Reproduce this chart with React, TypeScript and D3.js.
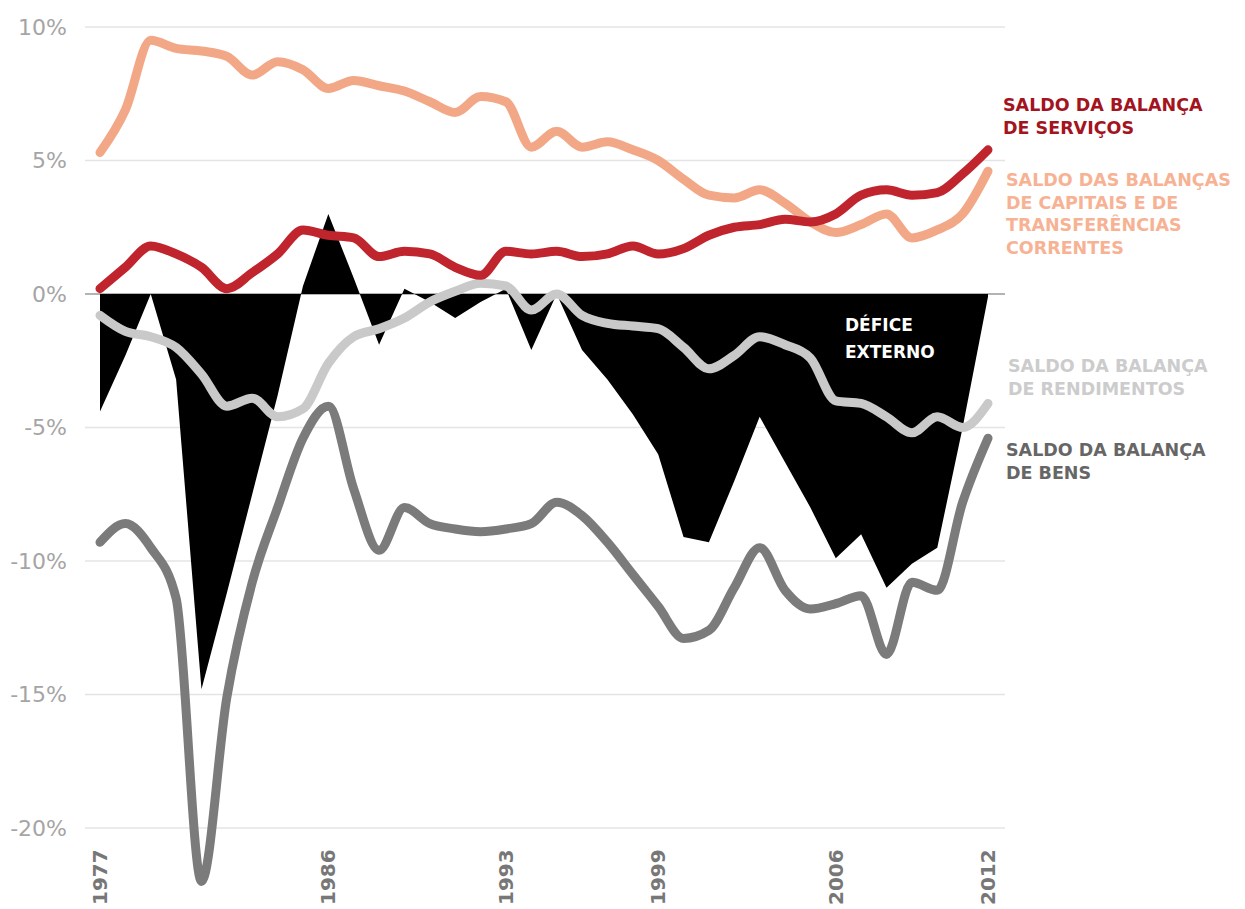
import React from "react";
import * as d3 from "d3";

// years 1977..2012
const years = d3.range(1977, 2013);

// balance of services (% GDP)
const servicos = [
  0.2, 1.0, 1.8, 1.5, 1.0, 0.2, 0.8, 1.5, 2.4, 2.2, 2.1, 1.4, 1.6, 1.5, 1.0, 0.7,
  1.6, 1.5, 1.6, 1.4, 1.5, 1.8, 1.5, 1.7, 2.2, 2.5, 2.6, 2.8, 2.7, 3.0, 3.7, 3.9,
  3.7, 3.8, 4.5, 5.4,
];

// capital + current transfers
const capitais = [
  5.3, 6.9, 9.5, 9.2, 9.1, 8.9, 8.2, 8.7, 8.4, 7.7, 8.0, 7.8, 7.6, 7.2, 6.8, 7.4,
  7.2, 5.5, 6.1, 5.5, 5.7, 5.4, 5.0, 4.3, 3.7, 3.6, 3.9, 3.4, 2.7, 2.3, 2.6, 3.0,
  2.1, 2.4, 3.0, 4.6,
];

// income balance
const rendimentos = [
  -0.8, -1.4, -1.6, -2.0, -3.0, -4.2, -3.9, -4.6, -4.3, -2.6, -1.6, -1.3, -0.9,
  -0.3, 0.1, 0.4, 0.3, -0.6, 0.0, -0.8, -1.1, -1.2, -1.3, -2.0, -2.8, -2.3, -1.6,
  -1.9, -2.4, -4.0, -4.1, -4.6, -5.2, -4.6, -5.0, -4.1,
];

// goods balance
const bens = [
  -9.3, -8.6, -9.5, -11.4, -22.0, -15.1, -10.8, -8.0, -5.4, -4.2, -7.3, -9.6,
  -8.0, -8.6, -8.8, -8.9, -8.8, -8.6, -7.8, -8.3, -9.3, -10.5, -11.7, -12.9,
  -12.6, -11.0, -9.5, -11.1, -11.8, -11.6, -11.3, -13.5, -10.8, -11.1, -7.8, -5.4,
];

// external deficit (black area)
const defice = [
  -4.4, -2.3, 0.0, -3.2, -14.8, -11.2, -7.5, -3.8, 0.3, 3.0, 0.6, -1.9, 0.2,
  -0.3, -0.9, -0.3, 0.2, -2.1, 0.0, -2.1, -3.2, -4.5, -6.0, -9.1, -9.3, -7.0,
  -4.6, -6.3, -8.0, -9.9, -9.0, -11.0, -10.1, -9.5, -5.0, -0.1,
];

const yTicks = [10, 5, 0, -5, -10, -15, -20];
const xTicks = [1977, 1986, 1993, 1999, 2006, 2012];

const W = 1245;
const H = 909;
const FONT = "'DejaVu Sans', Verdana, sans-serif";

export default function App() {
  const x = d3.scaleLinear().domain([1977, 2012]).range([100, 988]);
  const y = d3.scaleLinear().domain([-20, 10]).range([828, 27]);

  const line = d3
    .line<number>()
    .x((_, i) => x(years[i]))
    .y((d) => y(d))
    .curve(d3.curveMonotoneX);

  const area = d3
    .area<number>()
    .x((_, i) => x(years[i]))
    .y0(y(0))
    .y1((d) => y(d))
    .curve(d3.curveLinear);

  const series = [
    { values: bens, color: "#7b7b7b" },
    { values: rendimentos, color: "#c9c9c9" },
    { values: capitais, color: "#f2a886" },
    { values: servicos, color: "#c0242d" },
  ];

  const labels = [
    { lines: ["SALDO DA BALANÇA", "DE SERVIÇOS"], color: "#a3141e", x: 1003, y: 111 },
    {
      lines: ["SALDO DAS BALANÇAS", "DE CAPITAIS E DE", "TRANSFERÊNCIAS", "CORRENTES"],
      color: "#f7b294",
      x: 1006,
      y: 186,
    },
    { lines: ["SALDO DA BALANÇA", "DE RENDIMENTOS"], color: "#cccccc", x: 1008, y: 372 },
    { lines: ["SALDO DA BALANÇA", "DE BENS"], color: "#666666", x: 1006, y: 456 },
  ];

  return (
    <div style={{ position: "absolute", left: 0, top: 0 }}>
      <svg width={W} height={H} style={{ display: "block", background: "#fff" }}>
        {/* gridlines */}
        {yTicks.map((t) => (
          <line
            key={t}
            x1={85}
            x2={1005}
            y1={y(t)}
            y2={y(t)}
            stroke={t === 0 ? "#9a9a9a" : "#e4e4e4"}
            strokeWidth={1.5}
          />
        ))}
        {yTicks.map((t) => (
          <text
            key={"l" + t}
            x={67}
            y={y(t)}
            dy="0.36em"
            textAnchor="end"
            fontFamily={FONT}
            fontSize={22}
            fill="#a5a5a5"
          >
            {t + "%"}
          </text>
        ))}

        {/* deficit area */}
        <path d={area(defice) || ""} fill="#000" />
        <text fontFamily={FONT} fontWeight="bold" fontSize={17} fill="#fff">
          <tspan x={845} y={331}>DÉFICE</tspan>
          <tspan x={845} y={358}>EXTERNO</tspan>
        </text>

        {/* lines */}
        {series.map((s, i) => (
          <path
            key={i}
            d={line(s.values) || ""}
            fill="none"
            stroke={s.color}
            strokeWidth={9}
            strokeLinecap="round"
            strokeLinejoin="round"
          />
        ))}

        {/* x axis labels */}
        {xTicks.map((t) => (
          <text
            key={t}
            transform={`translate(${x(t) + 7},905) rotate(-90)`}
            textAnchor="start"
            fontFamily={FONT}
            fontWeight="bold"
            fontSize={20}
            fill="#777"
          >
            {t}
          </text>
        ))}

        {/* series labels */}
        {labels.map((l, i) => (
          <text key={i} fontFamily={FONT} fontWeight="bold" fontSize={17.5} fill={l.color}>
            {l.lines.map((s, j) => (
              <tspan key={j} x={l.x} y={l.y + j * 22.5}>
                {s}
              </tspan>
            ))}
          </text>
        ))}
      </svg>
    </div>
  );
}
